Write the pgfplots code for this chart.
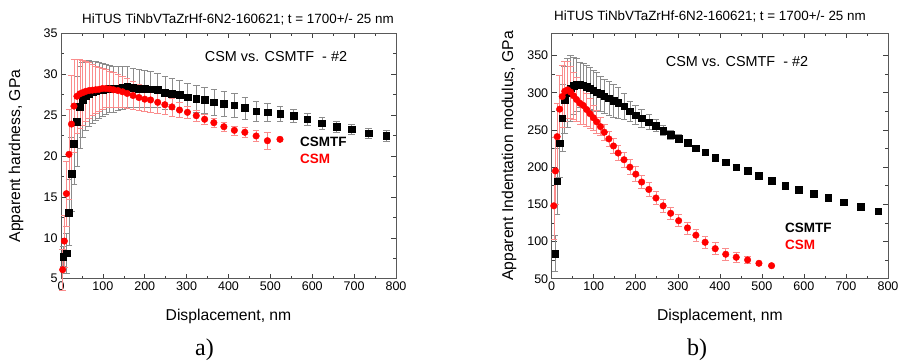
\documentclass[border=0pt]{standalone}
\usepackage{pgfplots}
\pgfplotsset{compat=1.18}
\usepackage{pgfplotstable}
\usepackage{fontspec}
\setmainfont{Liberation Sans}
\newfontfamily\seriffont{Liberation Serif}
\definecolor{errred}{RGB}{250,140,140}
\definecolor{errgray}{RGB}{140,140,140}

\pgfplotstableread{
x y e
5 7.7 1.2
13 8.1 2.5
19 13.1 4
25 17.8 4.5
31 21.5 5
38 24.2 5.5
45 26.0 5
52 26.9 4.6
59 27.4 4.3
67 27.65 4
75 27.8 3.8
83 27.95 3.6
91 28.05 3.4
99 28.1 3.2
107 28.15 3.0
116 28.2 2.9
125 28.2 2.8
136 28.25 2.7
147 28.35 2.6
158 28.45 2.5
172 28.35 2.4
186 28.25 2.3
200 28.2 2.25
214 28.15 2.2
231 28.07 2.1
248 27.74 2.0
265 27.58 1.9
283 27.46 1.85
302 27.18 1.75
323 27.0 1.7
343 26.85 1.6
365 26.56 1.55
389 26.39 1.5
414 26.23 1.45
439 25.87 1.35
466 25.5 1.2
493 25.34 1.1
523 25.17 0.95
555 24.93 0.8
588 24.5 0.75
623 24.0 0.7
658 23.6 0.7
694 23.3 0.6
735 22.8 0.6
777 22.5 0.7
}\hardTF

\pgfplotstableread{
x y e
4 6.1 2.5
8 9.6 3.2
13 15.4 4
19 20.2 5.5
25 23.9 6
31 26.1 5.7
38 27.3 4.5
45 27.6 4.2
52 27.75 4
59 27.9 3.7
67 28.0 3.4
75 28.05 3.1
83 28.1 2.9
91 28.15 2.7
99 28.25 2.5
107 28.25 2.3
116 28.2 2.2
125 28.1 2.1
136 28.0 2.0
147 27.85 1.9
158 27.65 1.8
172 27.4 1.7
186 27.15 1.6
200 26.95 1.5
214 26.85 1.45
231 26.56 1.3
248 26.27 1.2
265 26.0 1.1
283 25.62 0.9
302 25.34 0.7
323 24.93 0.65
343 24.49 0.6
365 24.07 0.6
389 23.58 0.55
414 23.14 0.55
439 22.9 0.6
466 22.45 0.7
493 21.87 1.0
523 22.04 0.1
}\hardCSM

\pgfplotstableread{
x y e
8 84 24
13 181 45
19 232 45
25 266 45
31 290 45
38 300 46
45 306 44
52 309.5 38
59 311 36
67 311 30
75 310 29
83 308.5 29
91 306 28
99 303.5 27
107 301 26
116 298.5 24
125 295.5 23
136 292.5 22.5
147 289.5 22
158 287 21
172 282 17
186 275 14
200 270 13
214 266 12
231 260.5 10
248 256 8
265 249.4 7
283 243.6 6
302 238.6 5
323 232.8 4
343 225.7 3.5
365 220.3 3
389 212.6 2.5
414 206.8 2
439 200.1 1.5
466 195.1 1
493 188.3 1
523 181.6 0.5
555 175.3 0.5
588 169.5 0.5
623 164.1 0.5
658 158.7 0.5
694 152.8 0.5
735 146.6 0.5
777 140.7 0.5
}\modTF

\pgfplotstableread{
x y e
5 148 45
9 195 45
13 241 45
19 278 45
25 295 42
31 302 40
38 304 38
45 301 35
52 296 32
59 291 30
67 286 28
75 283 25
83 277.5 22
91 272 20
99 266.5 17
107 261 15
116 254.5 12
125 247 11
136 238 10
147 228.5 10
158 219 10
172 210 10
186 200 10
200 190.6 10
214 180 9
231 170 9
248 158.5 9
265 148 9
283 138 8.5
302 128 8
323 118.3 8
343 108.5 8
365 99 8
389 90.4 8
414 82.9 7.5
439 78.8 7
466 75.2 4.5
493 70.7 2
523 67.5 1
}\modCSM

\pgfplotsset{
  panel/.style={
    scale only axis, height=245.4pt,
    xmin=0, xmax=800, xtick={0,100,...,800}, minor x tick num=1,
    minor y tick num=1,
    tick align=inside, xtick pos=both, ytick pos=both,
    xticklabel pos=lower, yticklabel pos=left,
    tick style={black!75, line width=0.6pt},
    major tick length=5pt, minor tick length=3pt,
    axis line style={black!65, line width=0.8pt},
    ticklabel style={font=\fontsize{12.5}{14}\selectfont},
    label style={font=\fontsize{15.7}{17}\selectfont},
    /pgf/number format/assume math mode=true,
    xlabel={Displacement, nm},
    xlabel style={at={(axis description cs:0.5,-0.152)}, anchor=center},
    clip=false,
  },
  tfplot/.style={only marks, mark=square*, mark size=3.3pt, black,
    mark options={fill=black, draw=black},
    error bars/.cd, y dir=both, y explicit,
    error bar style={errgray, line width=0.6pt},
    error mark options={errgray, rotate=90, mark size=3.3pt, line width=0.6pt}},
  csmplot/.style={only marks, mark=*, mark size=3.3pt, red,
    mark options={fill=red, draw=red},
    error bars/.cd, y dir=both, y explicit,
    error bar style={errred, line width=0.6pt},
    error mark options={errred, rotate=90, mark size=3.3pt, line width=0.6pt}},
}

\begin{document}
\begin{tikzpicture}[x=1pt,y=1pt]
\path[use as bounding box] (0,0) rectangle (900,362);

\begin{axis}[panel, at={(61pt,83.3pt)}, anchor=south west, width=335pt,
  ymin=5, ymax=35, ytick={5,10,...,35},
  ylabel={Apparent hardness, GPa},
  ylabel style={at={(axis description cs:-0.134,0.5)}, anchor=center},
]
\addplot[tfplot] table[x=x, y=y, y error=e] {\hardTF};
\addplot[csmplot] table[x=x, y=y, y error=e] {\hardCSM};
\end{axis}

\begin{axis}[panel, at={(551.7pt,83.3pt)}, anchor=south west, width=336.3pt,
  ymin=50, ymax=380, ytick={50,100,...,350},
  ylabel={Apparent Indentation modulus, GPa},
  ylabel style={at={(axis description cs:-0.127,0.5)}, anchor=center},
]
\addplot[tfplot] table[x=x, y=y, y error=e] {\modTF};
\addplot[csmplot] table[x=x, y=y, y error=e] {\modCSM};
\end{axis}

\node[font=\fontsize{13.4}{15}\selectfont, anchor=base] at (238,338.5) {HiTUS TiNbVTaZrHf-6N2-160621; t = 1700+/- 25 nm};
\node[font=\fontsize{13.4}{15}\selectfont, anchor=base] at (710,341) {HiTUS TiNbVTaZrHf-6N2-160621; t = 1700+/- 25 nm};

\node[font=\fontsize{14.4}{16}\selectfont] at (276,305) {CSM vs. CSMTF\ \ - \#2};
\node[font=\fontsize{14.4}{16}\selectfont] at (737,300) {CSM vs. CSMTF\ \ - \#2};

\node[font=\bfseries\fontsize{13.5}{15}\selectfont, anchor=west, inner sep=0pt] at (300,220) {CSMTF};
\node[font=\bfseries\fontsize{13.5}{15}\selectfont, anchor=west, inner sep=0pt, red] at (300,203) {CSM};
\node[font=\bfseries\fontsize{13.5}{15}\selectfont, anchor=west, inner sep=0pt] at (785,134) {CSMTF};
\node[font=\bfseries\fontsize{13.5}{15}\selectfont, anchor=west, inner sep=0pt, red] at (785,117) {CSM};

\node[font=\seriffont\fontsize{24}{26}\selectfont] at (204.5,12) {a)};
\node[font=\seriffont\fontsize{24}{26}\selectfont] at (697,12) {b)};
\end{tikzpicture}
\end{document}
